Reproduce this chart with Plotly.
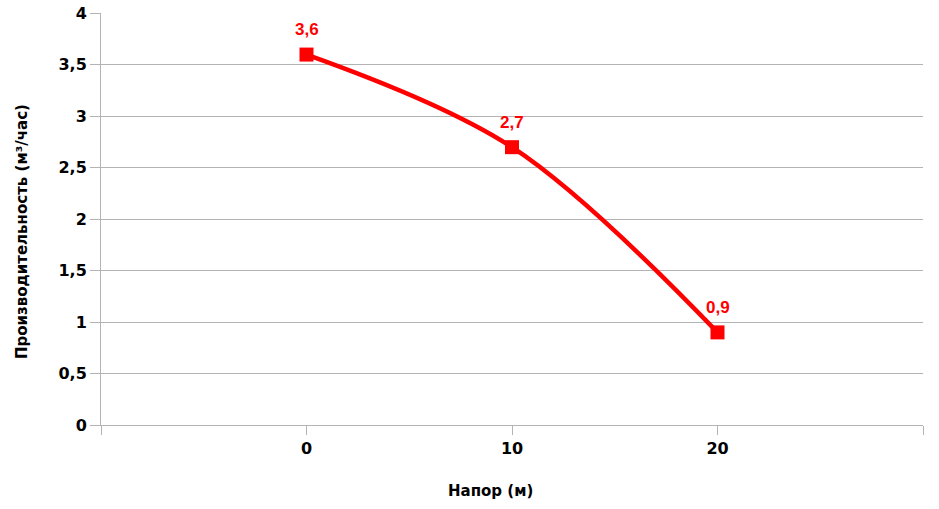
import plotly.graph_objects as go

categories = ["0", "10", "20"]
values = [3.6, 2.7, 0.9]
y_ticks = [0, 0.5, 1, 1.5, 2, 2.5, 3, 3.5, 4]

x_pos = list(range(len(categories)))
red = "#ff0000"
label_font = "Liberation Sans, Arial, sans-serif"
axis_font = "DejaVu Sans, sans-serif"

W, H = 939, 509
ml, mr, mt, mb = 101, 16, 13, 84
pw = W - ml - mr
ph = H - mt - mb

fig = go.Figure()
fig.add_trace(go.Scatter(
    x=x_pos, y=values, mode="lines+markers",
    line=dict(color=red, width=4.5, shape="spline", smoothing=1),
    marker=dict(symbol="square", size=14, color=red),
    hoverinfo="skip", showlegend=False,
))

annotations = []
for xi, v in zip(x_pos, values):
    annotations.append(dict(
        x=xi, y=v, xref="x", yref="y", text=f"{v}".replace(".", ","),
        showarrow=False, yshift=25,
        font=dict(family=label_font, size=17, color=red, weight="bold"),
    ))
annotations.append(dict(
    x=(490 - ml) / pw, y=-(491 - (H - mb)) / ph, xref="paper", yref="paper",
    text="Напор (м)", showarrow=False, xanchor="center", yanchor="middle",
    font=dict(family=axis_font, size=15, color="#000", weight="bold"),
))
annotations.append(dict(
    x=-(ml - 22) / pw, y=((H - mb) - 232) / ph, xref="paper", yref="paper",
    text="Производительность (м³/час)", showarrow=False, textangle=-90,
    xanchor="center", yanchor="middle",
    font=dict(family=axis_font, size=15, color="#000", weight="bold"),
))

fig.update_layout(
    width=W, height=H,
    margin=dict(l=ml, r=mr, t=mt, b=mb, autoexpand=False),
    paper_bgcolor="white", plot_bgcolor="white",
    separators=", ",
    annotations=annotations,
    xaxis=dict(
        range=[-1, len(categories)],
        tickvals=[-1] + x_pos + [len(categories)],
        ticktext=[""] + categories + [""],
        showgrid=False, zeroline=False, automargin=False,
        showline=True, linecolor="#b3b3b3", linewidth=1,
        ticks="outside", ticklen=9, tickcolor="#b3b3b3",
        tickfont=dict(family=axis_font, size=16, color="#000", weight="bold"),
    ),
    yaxis=dict(
        range=[0, 4.004], tickvals=y_ticks, automargin=False,
        ticklabeloverflow="allow",
        showgrid=True, gridcolor="#b3b3b3", gridwidth=1, zeroline=False,
        showline=True, linecolor="#b3b3b3", linewidth=1,
        ticks="outside", ticklen=10, tickcolor="#b3b3b3",
        tickfont=dict(family=axis_font, size=16, color="#000", weight="bold"),
    ),
)

fig.write_html("out.html", config={"displayModeBar": False},
               post_script="document.body.style.margin='0';")
